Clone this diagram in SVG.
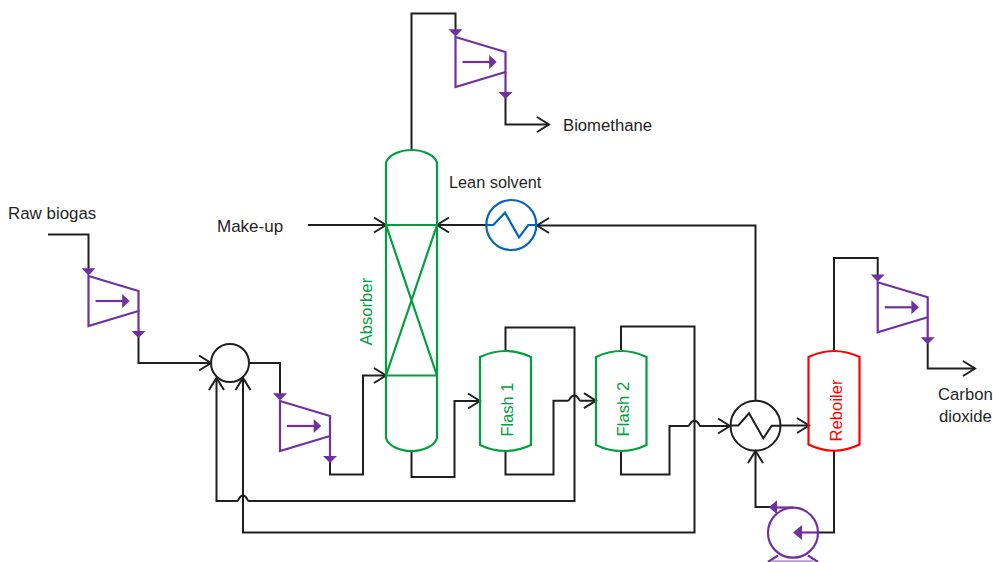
<svg xmlns="http://www.w3.org/2000/svg" xmlns:xlink="http://www.w3.org/1999/xlink" width="993" height="562" viewBox="0 0 993 562">
<style>
text{font-family:"Liberation Sans",Arial,sans-serif;font-size:16.7px;fill:#1f1f1f}
.g{fill:#00a040}.r{fill:#ff0000}
.k,.gs,.ps,.bs,.rs,.ks{fill:none;stroke-width:2;stroke-linejoin:miter}
.k,.ks{stroke:#1f1f1f}.gs{stroke:#00a040;stroke-width:2.2}.ps{stroke:#7030a0;stroke-width:2.2}.bs{stroke:#0563b8;stroke-width:2.2}.rs{stroke:#ff0000;stroke-width:2.2}
.pf{fill:#7030a0;stroke:none}
</style>
<defs>
<marker id="open" markerUnits="userSpaceOnUse" markerWidth="16" markerHeight="18" refX="13" refY="8" orient="auto" overflow="visible"><path d="M1,0.5 L13,8 L1,15.5" fill="none" stroke="#1f1f1f" stroke-width="2"/></marker>
<g id="compressor">
<path class="ps" d="M0,0 L50,15 L50,35 L0,50 Z"/>
<path class="ps" d="M50,35 V56"/>
<path class="pf" d="M-7,-7.7 H7 L0,-0.5 Z"/>
<path class="pf" d="M43,55 H57 L50,62 Z"/>
<path class="ps" d="M7,25 H35"/>
<path class="pf" d="M33.7,18 L41.2,25 L33.7,32 Z"/>
</g>
</defs>
<g id="connectors">
<path class="k" d="M411.5,150 V13.5 H455.5 V30"/>
<path class="k" d="M505.5,98 V124.5 H549" marker-end="url(#open)"/>
<path class="k" d="M48,234.5 H88.5 V269"/>
<path class="k" d="M138.5,336 V363 H211" marker-end="url(#open)"/>
<path class="k" d="M249,363 H280 V394"/>
<path class="k" d="M330,462 V474.5 H363 V375.5 H386" marker-end="url(#open)"/>
<path class="k" d="M308,225 H386" marker-end="url(#open)"/>
<path class="k" d="M486,225 H437" marker-end="url(#open)"/>
<path class="k" d="M755.5,401 V225.5 H537" marker-end="url(#open)"/>
<path class="k" d="M505.5,351 V327.5 H574.5 V501 H249 C247,501 247,495.5 243,495.5 C239,495.5 239,501 237,501 H216.5 V378" marker-end="url(#open)"/>
<path class="k" d="M621,350 V326.5 H694.5 V532.5 H243 V378" marker-end="url(#open)"/>
<path class="k" d="M411.5,451 V477 H454.5 V401 H480" marker-end="url(#open)"/>
<path class="k" d="M505.5,451 V474.5 H553.5 V400.7 H568 C570,400.7 570,395.5 574.3,395.5 C578.6,395.5 578.6,400.7 580.5,400.7 H596" marker-end="url(#open)"/>
<path class="k" d="M621,451 V474.5 H669.5 V426 H688 C690,426 690,420.8 694.4,420.8 C698.8,420.8 698.8,426 700.5,426 H730" marker-end="url(#open)"/>
<path class="k" d="M781,425.5 H809" marker-end="url(#open)"/>
<path class="k" d="M834,351 V258 H877.7 V275"/>
<path class="k" d="M927.7,342 V368.5 H975" marker-end="url(#open)"/>
<path class="k" d="M834,451 V532.5 H818"/>
<path class="k" d="M771,507 H755.5 V451" marker-end="url(#open)"/>
</g>
<g id="compressor-1"><use href="#compressor" x="455.5" y="37"/></g>
<g id="compressor-2"><use href="#compressor" x="88.5" y="276"/></g>
<g id="compressor-3"><use href="#compressor" x="280" y="401"/></g>
<g id="compressor-4"><use href="#compressor" x="877.7" y="282.3"/></g>
<g id="mixer"><circle class="ks" cx="230" cy="363" r="19"/></g>
<g id="absorber">
<path class="gs" d="M386,163 C388,155 400,150 411.5,150 C423,150 435,155 437,163 V438 C435,446 423,451 411.5,451 C400,451 388,446 386,438 Z"/>
<path class="gs" d="M386,225 H437 M386,375.5 H437 M386,225 L437,375.5 M437,225 L386,375.5"/>
<text class="g" transform="translate(371.5,345.5) rotate(-90)">Absorber</text>
</g>
<g id="flash-1">
<path class="gs" d="M480,357 Q505.5,345 531,357 V445 Q505.5,457 480,445 Z"/>
<text class="g" style="font-size:16.4px" transform="translate(512.5,436.5) rotate(-90)">Flash 1</text>
</g>
<g id="flash-2">
<path class="gs" d="M596,357 Q621,345 646.5,357 V445 Q621,457 596,445 Z"/>
<text class="g" transform="translate(628.5,436.5) rotate(-90)">Flash 2</text>
</g>
<g id="reboiler">
<path class="rs" d="M808.5,357 Q834,345 859.5,357 V444.5 Q834,457 808.5,444.5 Z"/>
<text class="r" transform="translate(841.5,441.5) rotate(-90)">Reboiler</text>
</g>
<g id="cooler">
<circle class="bs" cx="511.3" cy="225" r="25"/>
<path class="bs" d="M486,225 H493.3 L505,212.7 L519,237.3 L528.3,225 H536.7"/>
</g>
<g id="heat-exchanger">
<circle class="ks" cx="755.5" cy="425.7" r="25"/>
<path class="ks" d="M730.3,425.5 H738.3 L749,413.3 L763.3,438.3 L771.7,425.7 H781"/>
</g>
<g id="pump">
<circle class="ps" cx="793" cy="532.7" r="25"/>
<path class="ps" d="M818,532.5 H800"/>
<path class="pf" d="M793,532.5 L802,525 V540 Z"/>
<path class="ps" d="M793,507.5 H775"/>
<path class="pf" d="M769,507.3 L777,500.3 V514.3 Z"/>
<path class="ps" d="M768,562 L778,555.5 M818,562 L808,555.5"/>
<path class="ps" d="M772,561.3 H813" stroke-opacity="0.5"/>
</g>
<g id="labels">
<text x="8" y="219" style="font-size:16.9px">Raw biogas</text>
<text x="217" y="232" style="font-size:17px">Make-up</text>
<text x="449" y="187.5" style="font-size:16.3px">Lean solvent</text>
<text x="563" y="131">Biomethane</text>
<text x="938" y="400">Carbon</text>
<text x="939" y="422">dioxide</text>
</g>
</svg>
